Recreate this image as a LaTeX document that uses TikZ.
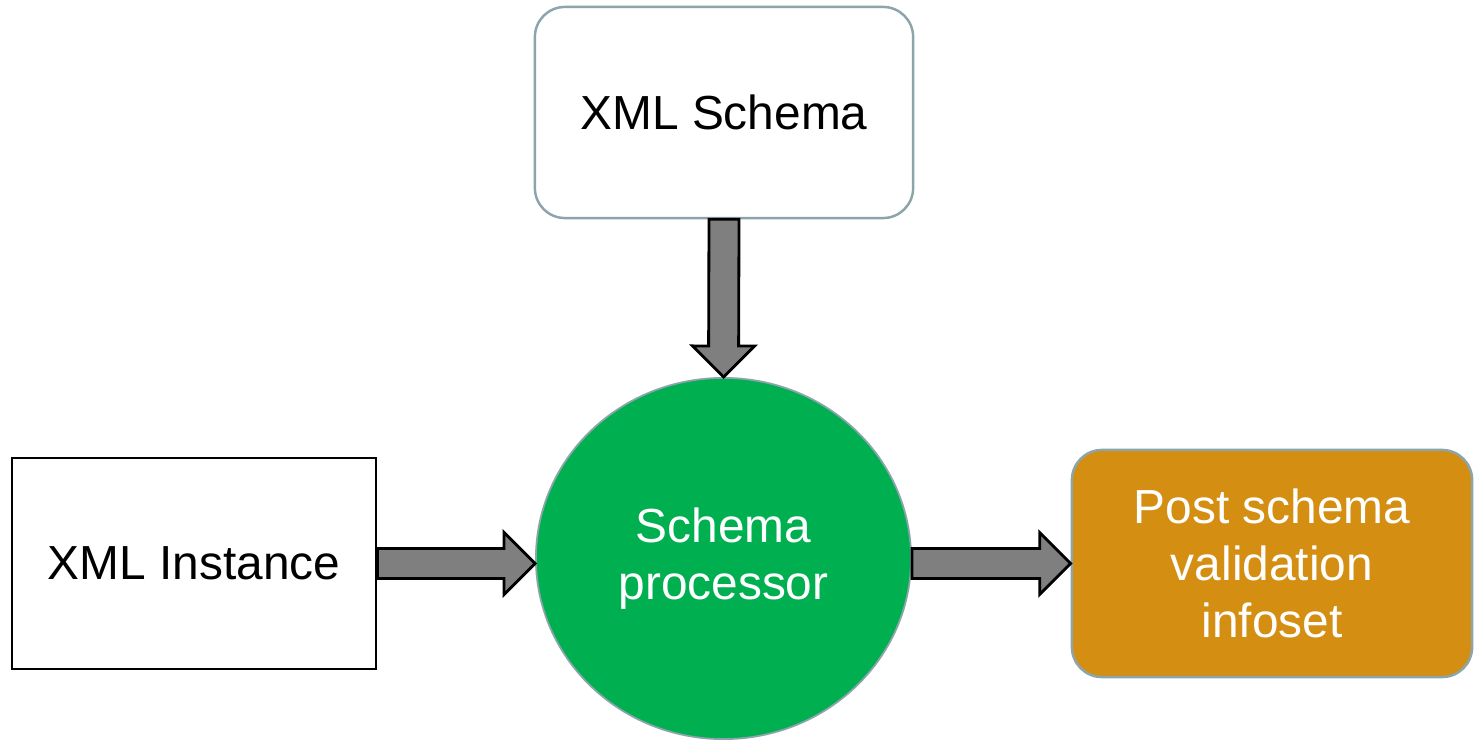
\documentclass[tikz,border=0pt]{standalone}
\usepackage{fontspec}
\setmainfont{Liberation Sans}
\usetikzlibrary{calc,shapes.geometric}

\definecolor{edgegray}{RGB}{140,164,171}
\definecolor{procgreen}{RGB}{0,176,80}
\definecolor{postorange}{RGB}{212,143,18}
\definecolor{arrowgray}{RGB}{127,127,127}

% block arrow from #1 to #2 (tip at #2)
\newcommand{\blockarrow}[2]{%
  \coordinate (headbase) at ($(#2)!0.31cm!(#1)$);
  \draw[arrow body] ($(#1)!0.15cm!90:(#2)$) -- ($(headbase)!0.15cm!90:(#2)$)
    -- ($(headbase)!0.31cm!90:(#2)$) -- (#2)
    -- ($(headbase)!0.31cm!-90:(#2)$) -- ($(headbase)!0.15cm!-90:(#2)$)
    -- ($(#1)!0.15cm!-90:(#2)$) -- cycle;}

\begin{document}
\begin{tikzpicture}[x=0.01cm,y=-0.01cm,
  every node/.style={font=\fontsize{13.6}{16.3}\selectfont,align=center,inner sep=0pt},
  round box/.style={draw=edgegray,line width=0.7pt,rounded corners=0.3cm},
  plain box/.style={draw=black,line width=0.7pt,fill=white},
  proc node/.style={ellipse,draw=edgegray,line width=0.5pt,fill=procgreen,text=white,
    minimum width=3.75cm,minimum height=3.61cm},
  arrow body/.style={draw=black,line width=0.8pt,fill=arrowgray,line join=miter}]

  \useasboundingbox (0,0) rectangle (1474,740);

  \node[round box,fill=white,minimum width=3.78cm,minimum height=2.11cm] (schema) at (724,112.5) {XML Schema};
  \node[plain box,minimum width=3.64cm,minimum height=2.11cm] (inst) at (194,563.5) {XML Instance};
  \node[proc node] (proc) at (723.5,558.5) {\raisebox{-5pt}{Schema}\\\raisebox{-5pt}{processor}};
  \node[round box,fill=postorange,text=white,minimum width=4.0cm,minimum height=2.27cm] (post) at (1272,563.5) {Post schema\\validation\\infoset};

  \coordinate (inTip) at (proc.west |- inst.east);
  \coordinate (outStart) at (proc.east |- post.west);

  \blockarrow{schema.south}{proc.north}
  \blockarrow{inst.east}{inTip}
  \blockarrow{outStart}{post.west}
\end{tikzpicture}
\end{document}
